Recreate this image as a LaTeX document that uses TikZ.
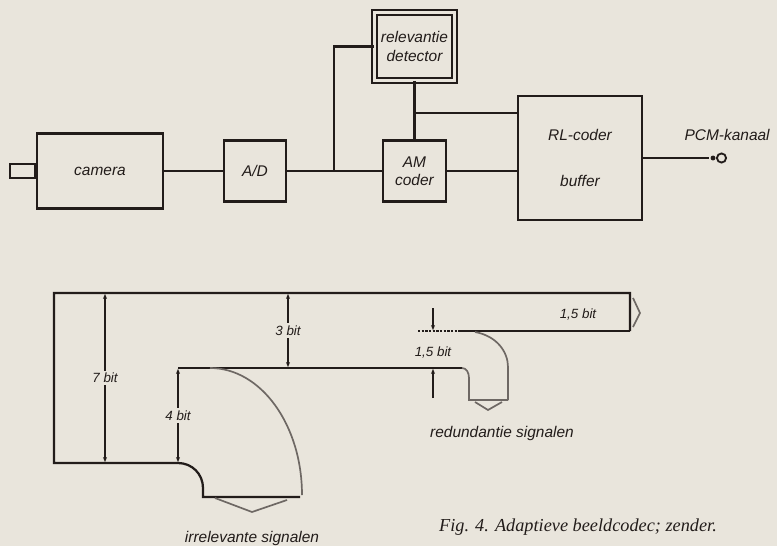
\documentclass[tikz,border=0pt]{standalone}
\usepackage{fontspec}
\setmainfont{Liberation Serif}
\setsansfont{Liberation Sans}
\usepackage{tikz}
\usetikzlibrary{arrows.meta, positioning, calc}
\definecolor{paper}{RGB}{233,229,220}
\definecolor{ink}{RGB}{34,28,26}
\definecolor{pencil}{RGB}{110,104,100}

\begin{document}
\begin{tikzpicture}[x=0.025cm, y=-0.025cm, ink, line width=1.6pt,
  font=\sffamily\itshape\fontsize{11}{13}\selectfont,
  blk/.style={draw=ink, line width=1.6pt, inner sep=0pt, align=center},
  dim/.style={line width=1.1pt, {Latex[length=4pt,width=3pt]}-{Latex[length=4pt,width=3pt]}},
  dimlab/.style={fill=paper, inner sep=1.5pt, font=\sffamily\itshape\fontsize{9.5}{11}\selectfont},
  flow/.style={draw=pencil, line width=1.2pt}]
  \fill[paper] (0,0) rectangle (777,546);
  \useasboundingbox (0,0) rectangle (777,546);

  % block diagram
  \node[blk, minimum width=3.15cm, minimum height=1.875cm] (camera) at (100,171) {camera};
  \node[blk, minimum width=0.625cm, minimum height=0.35cm, anchor=east] (lens) at (camera.west) {};
  \node[blk, minimum width=1.55cm, minimum height=1.525cm] (ad) at (255,171) {A/D};
  \node[blk, minimum width=1.575cm, minimum height=1.525cm] (am) at (414.5,171) {AM\\coder};
  \node[blk, double=paper, double distance=2pt, line width=1.4pt,
        minimum width=2cm, minimum height=1.7cm] (rel) at (414.5,46.5) {relevantie\\detector};
  \node[blk, minimum width=3.1cm, minimum height=3.1cm] (rl) at (580,158) {RL-coder\\[20pt]buffer};
  \node[circle, fill=ink, inner sep=0pt, minimum size=3.5pt] (dot) at (713,158) {};
  \node[circle, draw=ink, line width=1.3pt, inner sep=0pt, minimum size=6.5pt] (pcm) at (721.5,158) {};
  \node[above=4pt of pcm, xshift=4pt] (pcmlab) {PCM-kanaal};

  \coordinate (split) at (334,171);
  \coordinate (tap) at (414.5,113);
  \draw (camera) -- (ad);
  \draw (ad) -- (am);
  \draw (split) |- (rel.west);
  \draw (rel) -- (am);
  \draw (tap) -- (tap -| rl.west);
  \draw (am) -- (am -| rl.west);
  \draw (rl) -- (dot) -- (pcm);

  % bit budget
  \coordinate (tl) at (54,293);
  \coordinate (tr) at (630,293);
  \coordinate (br) at (630,331);
  \coordinate (bl) at (54,463);
  \coordinate (kink) at (178,463);
  \coordinate (ml) at (178,368);
  \coordinate (mr) at (462,368);
  \draw (br) -- (tr) -- (tl) -- (bl) -- (kink)
        .. controls (192,463) and (203,474) .. (203,488) -- (203,497) -- (300,497);
  \draw (ml) -- (mr);
  \draw[flow] (mr) .. controls (466,368) and (469,372) .. (469,378) -- (469,400) -- (508,400);
  \draw[densely dotted] (418,331) -- (460,331);
  \draw (460,331) -- (br);
  \draw[flow] (210,368) .. controls (261,368) and (302,425) .. (302,495);
  \draw[flow] (475,332) .. controls (497,336) and (508,352) .. (508,367) -- (508,400);
  \draw[flow] (215,498) -- (252,512) -- (287,500);
  \draw[flow] (475,402) -- (488,410) -- (502,402);
  \draw[flow] (633,298) -- (640,313) -- (633,327);

  \draw[dim] (105,293) -- node[dimlab] (sevenbit) {7 bit} (105,463);
  \draw[dim] (288,293) -- node[dimlab] (threebit) {3 bit} (288,368);
  \draw[dim] (ml) -- node[dimlab] (fourbit) {4 bit} (kink);
  \draw[line width=1.1pt, -{Latex[length=4pt,width=3pt]}] (433,308) -- (433,331);
  \draw[line width=1.1pt, -{Latex[length=4pt,width=3pt]}] (433,398) -- (433,368);
  \node[dimlab] (halfbit) at (433,353) {1,5 bit};
  \node[dimlab] (outbit) at (578,315) {1,5 bit};

  \node (irr) at (252,538) {irrelevante signalen};
  \node (red) at (502,433) {redundantie signalen};
  \node[font=\rmfamily\itshape\fontsize{13}{15}\selectfont] (caption) at (578,527)
       {Fig. 4. Adaptieve beeldcodec; zender.};
\end{tikzpicture}
\end{document}
